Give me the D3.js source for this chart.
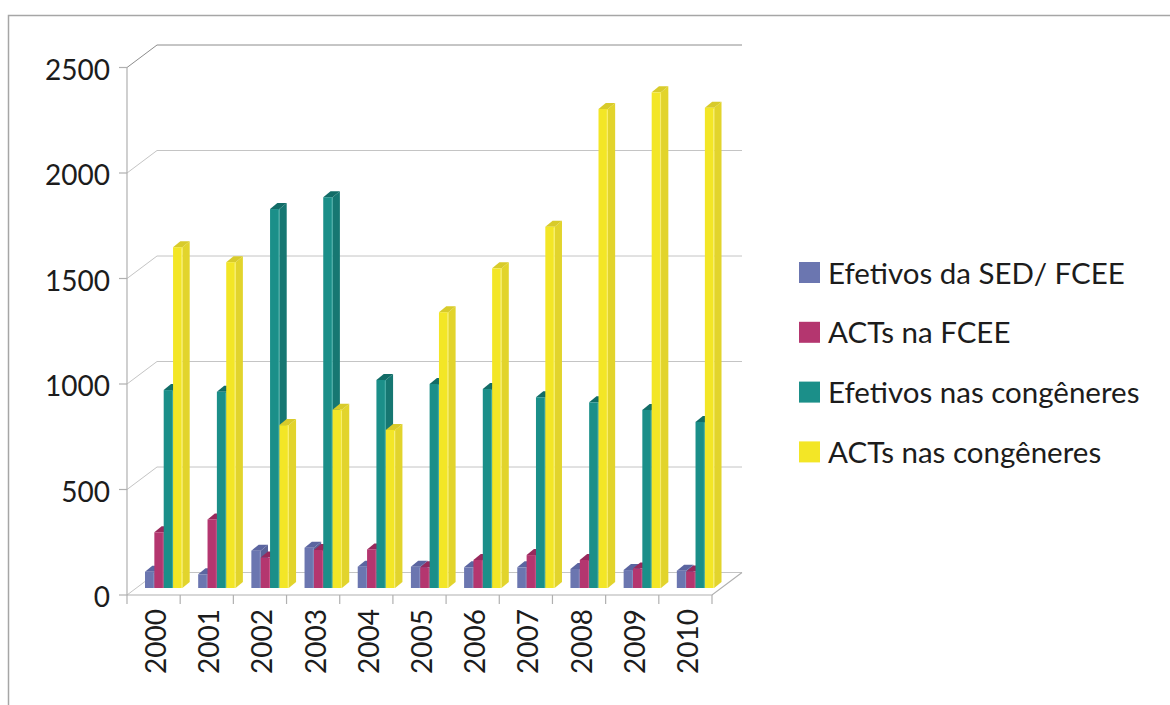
<!DOCTYPE html>
<html>
<head>
<meta charset="utf-8">
<script src="https://cdn.jsdelivr.net/npm/d3@7"></script>
<style>
  body { margin: 0; background: #fff; }
  svg { display: block; }
  text { font-family: Lato, "Open Sans", sans-serif; fill: #1c1c1c; }
</style>
</head>
<body>
<svg id="chart" width="1170" height="705"></svg>
<script>
// Categories and series values
const years = ["2000","2001","2002","2003","2004","2005","2006","2007","2008","2009","2010"];
const seriesNames = ["Efetivos da SED/ FCEE","ACTs na FCEE","Efetivos nas congêneres","ACTs nas congêneres"];
const efetivosSED  = [77, 65, 177, 191, 101, 101, 98, 98, 90, 85, 82];
const actsFCEE     = [264, 325, 144, 180, 183, 98, 133, 156, 133, 92, 78];
const efetivosCong = [938, 930, 1796, 1852, 986, 967, 943, 904, 880, 844, 787];
const actsCong     = [1615, 1544, 772, 845, 749, 1307, 1515, 1712, 2270, 2349, 2276];
const yTicks = [0, 500, 1000, 1500, 2000, 2500];

const seriesValues = [efetivosSED, actsFCEE, efetivosCong, actsCong];

// Face colours per series: front, side, top, edge highlight
const palette = [
  { front: "#6b76b0", side: "#5a6398", top: "#5b65a0", edge: "#8e97c6" },
  { front: "#b4366f", side: "#962a5b", top: "#98295c", edge: "#cf5f8f" },
  { front: "#1b8f89", side: "#167772", top: "#126c67", edge: "#4fb3ad" },
  { front: "#f3e626", side: "#e2d42c", top: "#d8cb2b", edge: "#faf28a" }
];

const svg = d3.select("#chart");

// Oblique 3D frame
const left = 127, right = 712;
const depthX = 30, depthY = -22.5;   // offset from front plane to back wall
const barShiftX = 9.3, barShiftY = -7; // plane where bar fronts sit
const barDX = 7.3, barDY = -6;        // bar depth

const y = d3.scaleLinear().domain([0, 2500]).range([595, 67.5]);
const x0 = d3.scaleBand().domain(years).range([left, right]).padding(0);
const xs = d3.scaleBand().domain(d3.range(seriesNames.length)).range([8.7, 8.7 + 37.4]).padding(0);

// Outer frame
svg.append("path")
  .attr("d", "M8.5,705 L8.5,15.5 L1170,15.5")
  .attr("fill", "none").attr("stroke", "#a6a6a6").attr("stroke-width", 1.5);

const grid = svg.append("g").attr("fill", "none");

// Back wall gridlines with side-wall diagonals
yTicks.forEach(t => {
  const yf = y(t);
  grid.append("path")
    .attr("d", `M${left},${yf} L${left + depthX},${yf + depthY} L${right + depthX},${yf + depthY}`)
    .attr("stroke", t === 2500 ? "#8c8c8c" : "#c4c4c4").attr("stroke-width", 1);
});

// Floor front edge and right diagonal
grid.append("path")
  .attr("d", `M${left},${y(0)} L${right},${y(0)} L${right + depthX},${y(0) + depthY}`)
  .attr("stroke", "#b0b0b0").attr("stroke-width", 1.2);

// Vertical value axis
grid.append("line")
  .attr("x1", left).attr("x2", left).attr("y1", y(2500)).attr("y2", y(0))
  .attr("stroke", "#b0b0b0").attr("stroke-width", 1.2);

// Value ticks and labels
const yAxis = svg.append("g");
yTicks.forEach(t => {
  yAxis.append("line")
    .attr("x1", left - 8).attr("x2", left).attr("y1", y(t)).attr("y2", y(t))
    .attr("stroke", "#b0b0b0").attr("stroke-width", 1.2);
  yAxis.append("text")
    .attr("x", 110).attr("y", y(t) + 12)
    .attr("text-anchor", "end")
    .attr("font-size", 28)
    .text(t);
});

// Category boundary ticks
const xAxis = svg.append("g");
d3.range(years.length + 1).forEach(i => {
  const xv = left + i * x0.step();
  xAxis.append("line")
    .attr("x1", xv).attr("x2", xv).attr("y1", y(0)).attr("y2", y(0) + 9)
    .attr("stroke", "#b0b0b0").attr("stroke-width", 1.2);
});

// Rotated year labels
years.forEach(yr => {
  const cx = x0(yr) + x0.bandwidth() / 2 + 2.5;
  xAxis.append("text")
    .attr("transform", `translate(${cx + 10},609) rotate(-90)`)
    .attr("text-anchor", "end")
    .attr("font-size", 28)
    .text(yr);
});

// 3D columns: drawn left to right so each front face covers the neighbour's side
const bars = svg.append("g");
years.forEach((yr, i) => {
  seriesValues.forEach((vals, s) => {
    const c = palette[s];
    const w = xs.bandwidth();
    const bx = x0(yr) + xs(s) + barShiftX;
    const yb = y(0) + barShiftY;
    const yt = y(vals[i]) + barShiftY;
    const g = bars.append("g");
    // side face
    g.append("path")
      .attr("d", `M${bx + w},${yb} L${bx + w},${yt} L${bx + w + barDX},${yt + barDY} L${bx + w + barDX},${yb + barDY} Z`)
      .attr("fill", c.side);
    // top face
    g.append("path")
      .attr("d", `M${bx},${yt} L${bx + w},${yt} L${bx + w + barDX},${yt + barDY} L${bx + barDX},${yt + barDY} Z`)
      .attr("fill", c.top);
    // front face
    g.append("rect")
      .attr("x", bx).attr("y", yt).attr("width", w).attr("height", yb - yt)
      .attr("fill", c.front);
    // highlight along the front/side edge
    g.append("line")
      .attr("x1", bx + w - 0.6).attr("x2", bx + w - 0.6).attr("y1", yt + 1).attr("y2", yb)
      .attr("stroke", c.edge).attr("stroke-width", 1).attr("opacity", 0.8);
  });
});

// Legend
const legend = svg.append("g");
seriesNames.forEach((name, s) => {
  const ly = 262 + s * 59.8;
  legend.append("rect")
    .attr("x", 799).attr("y", ly).attr("width", 21).attr("height", 21)
    .attr("fill", palette[s].front);
  legend.append("text")
    .attr("x", 828).attr("y", ly + 21.5)
    .attr("font-size", 29.5)
    .text(name);
});
</script>
</body>
</html>
